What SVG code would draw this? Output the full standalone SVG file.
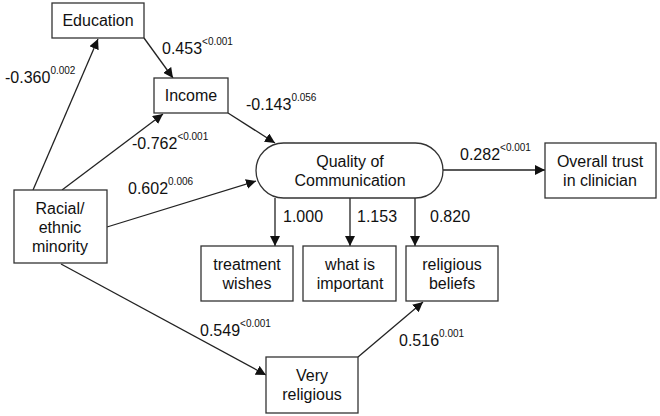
<svg xmlns="http://www.w3.org/2000/svg" width="660" height="416" viewBox="0 0 660 416">
<style>
rect.n{fill:#fff;stroke:#333;stroke-width:1.3}
text{font-family:"Liberation Sans",Arial,sans-serif;font-size:16px;fill:#111}
.c{text-anchor:middle}
.s{font-size:10px}
line{stroke:#222;stroke-width:1.3;marker-end:url(#a)}
</style>
<defs><marker id="a" viewBox="0 0 10 10" refX="10" refY="5" markerWidth="10" markerHeight="10" markerUnits="userSpaceOnUse" orient="auto"><path d="M0,0L10,5L0,10z" fill="#111"/></marker></defs>
<rect width="660" height="416" fill="#fff"/>
<g id="connectors">
<line x1="33" y1="190" x2="98" y2="39"/>
<line x1="62" y1="190" x2="163" y2="114"/>
<line x1="107" y1="227" x2="256" y2="181"/>
<line x1="61" y1="264" x2="266" y2="375"/>
<line x1="144" y1="38" x2="173" y2="78"/>
<line x1="228" y1="113" x2="275" y2="143"/>
<line x1="443" y1="170" x2="545" y2="170"/>
<line x1="275" y1="198" x2="275" y2="246"/>
<line x1="350" y1="198" x2="350" y2="246"/>
<line x1="415" y1="198" x2="415" y2="246"/>
<line x1="358" y1="357" x2="423" y2="302"/>
</g>
<g id="labels">
<text x="5" y="83">-0.360<tspan class="s" dy="-9">0.002</tspan></text>
<text x="162" y="54">0.453<tspan class="s" dy="-9">&lt;0.001</tspan></text>
<text x="246" y="110">-0.143<tspan class="s" dy="-9">0.056</tspan></text>
<text x="132" y="149">-0.762<tspan class="s" dy="-9">&lt;0.001</tspan></text>
<text x="128" y="194">0.602<tspan class="s" dy="-9">0.006</tspan></text>
<text x="460" y="160">0.282<tspan class="s" dy="-9">&lt;0.001</tspan></text>
<text x="283" y="222">1.000</text>
<text x="357" y="222">1.153</text>
<text x="430" y="222">0.820</text>
<text x="200" y="336">0.549<tspan class="s" dy="-9">&lt;0.001</tspan></text>
<text x="399" y="346">0.516<tspan class="s" dy="-9">0.001</tspan></text>
</g>
<g id="education"><rect class="n" x="52" y="3" width="92" height="35"/><text class="c" x="98" y="26">Education</text></g>
<g id="income"><rect class="n" x="154" y="78" width="74" height="35"/><text class="c" x="191" y="101">Income</text></g>
<g id="racial"><rect class="n" x="14" y="190" width="93" height="73"/><text class="c" x="60" y="214">Racial/</text><text class="c" x="60" y="233">ethnic</text><text class="c" x="60" y="252">minority</text></g>
<g id="quality"><rect class="n" x="256" y="143" width="187" height="55" rx="27.5"/><text class="c" x="350" y="167">Quality of</text><text class="c" x="350" y="186">Communication</text></g>
<g id="trust"><rect class="n" x="545" y="143" width="111" height="55"/><text class="c" x="600" y="167">Overall trust</text><text class="c" x="600" y="186">in clinician</text></g>
<g id="treatment"><rect class="n" x="201" y="246" width="92" height="55"/><text class="c" x="247" y="270">treatment</text><text class="c" x="247" y="289">wishes</text></g>
<g id="important"><rect class="n" x="303" y="246" width="93" height="55"/><text class="c" x="350" y="270">what is</text><text class="c" x="350" y="289">important</text></g>
<g id="beliefs"><rect class="n" x="406" y="246" width="92" height="55"/><text class="c" x="452" y="270">religious</text><text class="c" x="452" y="289">beliefs</text></g>
<g id="veryreligious"><rect class="n" x="266" y="357" width="92" height="56"/><text class="c" x="312" y="381">Very</text><text class="c" x="312" y="400">religious</text></g>
</svg>
